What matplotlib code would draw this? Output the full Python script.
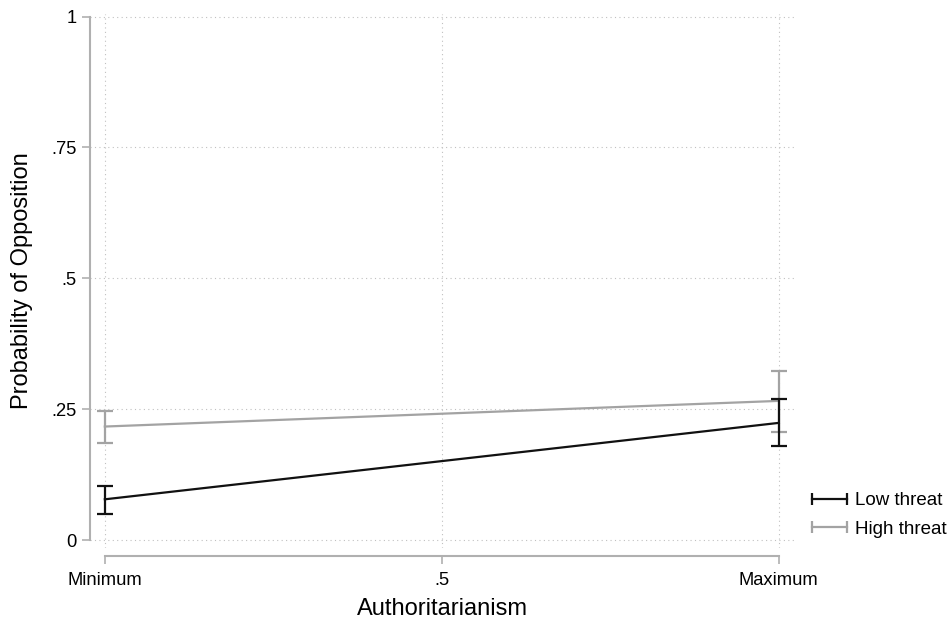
import matplotlib
matplotlib.use("Agg")
import matplotlib.pyplot as plt
from matplotlib.lines import Line2D

plt.rcParams["font.family"] = ["Liberation Sans", "DejaVu Sans"]

# predicted probabilities at min / max authoritarianism
x_pos = [0.0, 1.0]
x_ticks = [0.0, 0.5, 1.0]
x_ticklabels = ["Minimum", ".5", "Maximum"]
y_ticks = [0.0, 0.25, 0.5, 0.75, 1.0]
y_ticklabels = ["0", ".25", ".5", ".75", "1"]

low_mean = [0.078, 0.224]
low_lo = [0.049, 0.180]
low_hi = [0.103, 0.269]

high_mean = [0.217, 0.266]
high_lo = [0.186, 0.207]
high_hi = [0.247, 0.324]

series_labels = ["Low threat", "High threat"]
BLACK = "#111111"
GRAY = "#a3a3a3"
AXIS_GRAY = "#b0b0b0"

W, H = 951, 627
fig = plt.figure(figsize=(W / 100, H / 100), dpi=100)
ax = fig.add_axes([90 / W, 1 - 548 / H, (795 - 90) / W, (548 - 14) / H])

def draw(mean, lo, hi, color, z):
    err = [[m - l for m, l in zip(mean, lo)], [h - m for m, h in zip(mean, hi)]]
    ax.errorbar(x_pos, mean, yerr=err, color=color, lw=1.6, elinewidth=1.6,
                capsize=6, capthick=1.6, zorder=z)

draw(high_mean, high_lo, high_hi, GRAY, 3)
draw(low_mean, low_lo, low_hi, BLACK, 4)

ax.set_xlim(-0.022, 1.024)
ax.set_ylim(-0.015, 1.005)

ax.set_xticks(x_ticks)
ax.set_xticklabels(x_ticklabels)
ax.set_yticks(y_ticks)
ax.set_yticklabels(y_ticklabels)

ax.grid(True, color="#c0c0c0", linestyle=(0, (1, 3)), linewidth=0.8)
ax.set_axisbelow(True)

for s in ["top", "right"]:
    ax.spines[s].set_visible(False)
ax.spines["left"].set_bounds(0, 1)
ax.spines["bottom"].set_bounds(0, 1)
ax.spines["bottom"].set_position(("outward", 6))
for s in ["left", "bottom"]:
    ax.spines[s].set_color(AXIS_GRAY)
    ax.spines[s].set_linewidth(1.5)

ax.tick_params(axis="both", colors=AXIS_GRAY, labelcolor="black",
               labelsize=13.2, length=6, width=1.2)
ax.tick_params(axis="x", pad=5.5)

ax.set_xlabel("Authoritarianism", fontsize=17, labelpad=6)
ax.set_ylabel("Probability of Opposition", fontsize=17, labelpad=13)

# rcap-style legend keys: horizontal line with end caps
handles = [Line2D([0, 1], [0, 0], color=c, lw=1.6, marker="|", markersize=8,
                  markeredgewidth=1.6) for c in (BLACK, GRAY)]
fig.legend(handles, series_labels, loc="upper left",
           bbox_to_anchor=(806 / W, 1 - 492 / H), frameon=False, fontsize=13.5,
           numpoints=2, handlelength=2.46, handletextpad=0.13,
           labelspacing=0.62, borderpad=0, borderaxespad=0)

fig.savefig("out.png", dpi=100)
